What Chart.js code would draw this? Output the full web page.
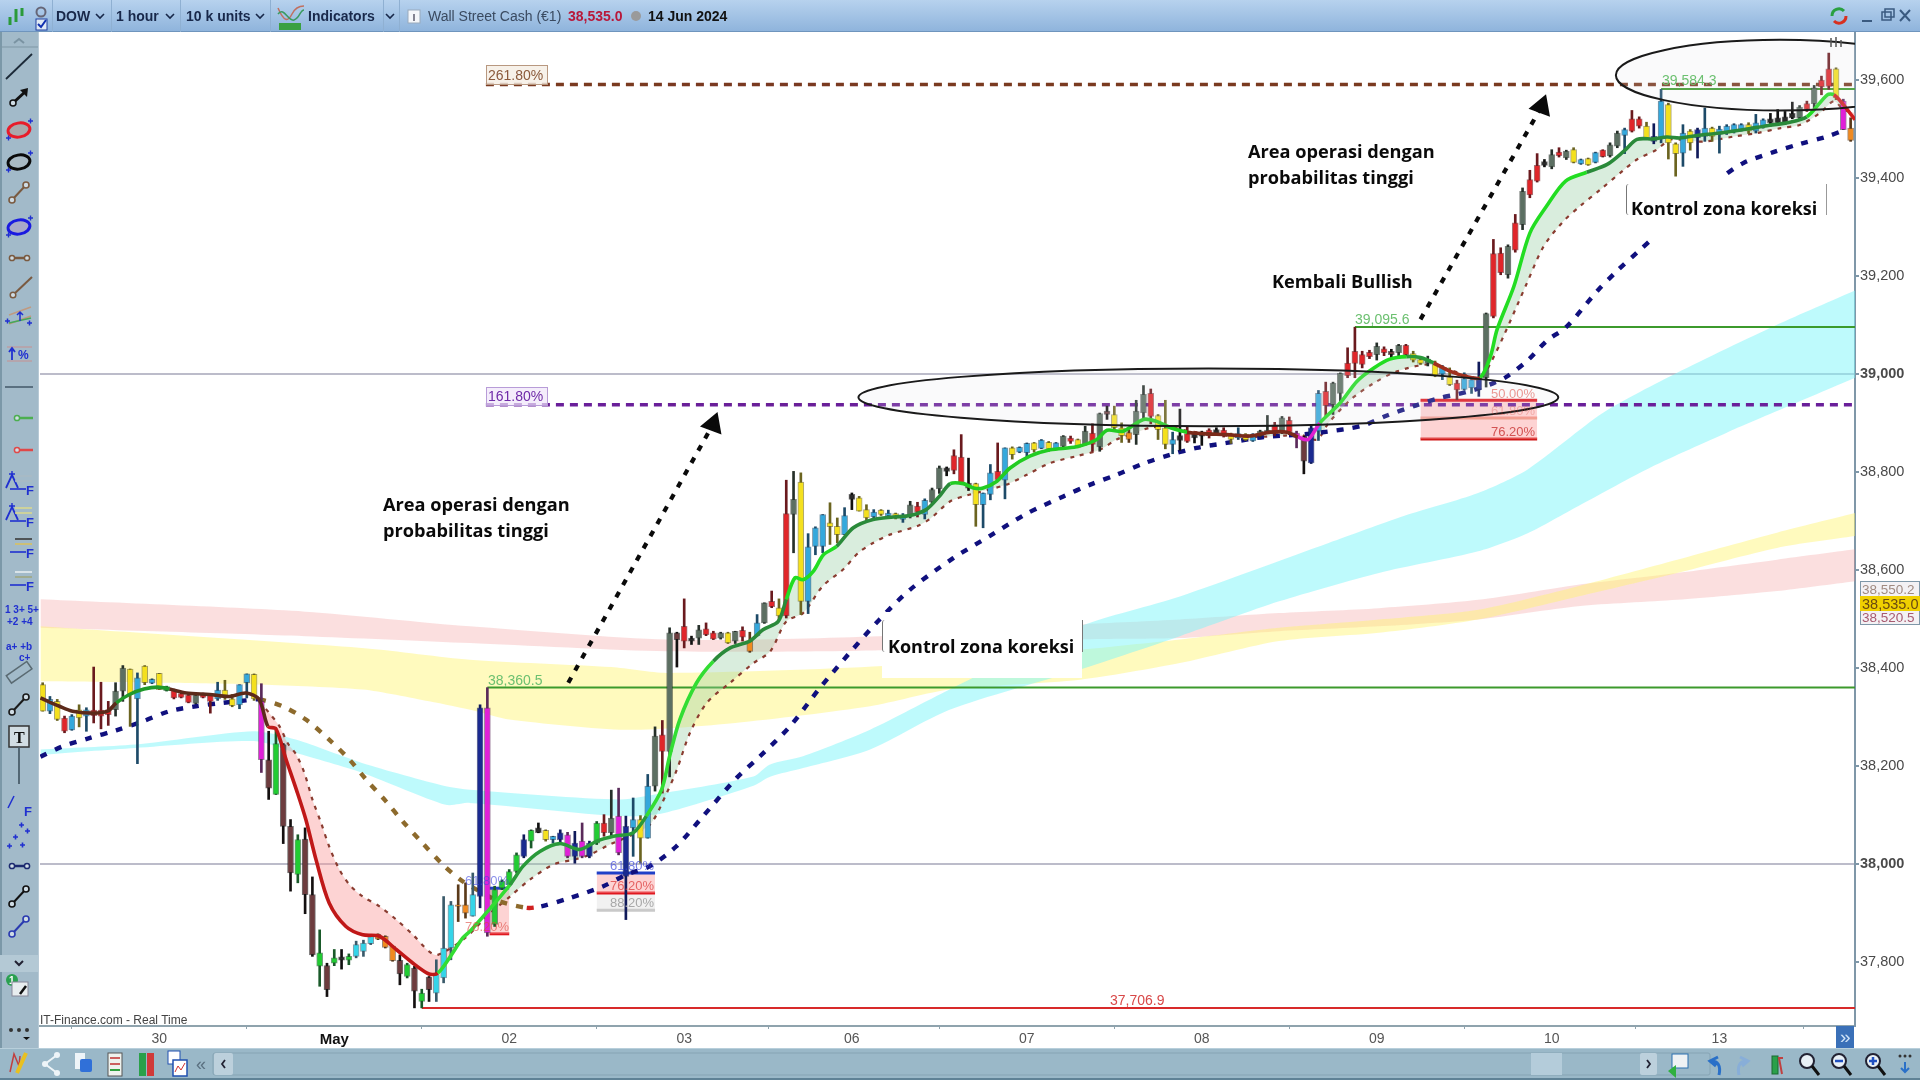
<!DOCTYPE html>
<html>
<head>
<meta charset="utf-8">
<title>Wall Street Cash</title>
<script src="https://cdn.jsdelivr.net/npm/chart.js@4/dist/chart.umd.min.js"></script>
<style>
html, body { margin: 0; padding: 0; width: 1920px; height: 1080px; overflow: hidden; background: #fff; font-family: "Liberation Sans", sans-serif; }
#chart { position: absolute; left: 0; top: 0; }
#overlay, #chrome { position: absolute; left: 0; top: 0; width: 1920px; height: 1080px; pointer-events: none; }
.txt { position: absolute; white-space: nowrap; transform: translateY(-50%); line-height: 1; }
.note { font-family: "Open Sans", sans-serif; font-weight: 700; font-size: 18.2px; color: #0a0a0a; }
.fib { font-size: 13px; }
.patch { position: absolute; background: #fff; }
.bracket { position: absolute; width: 4px; border-left: 1px solid #777; border-radius: 3px 0 0 3px; }
.bar { position: absolute; }
.sep { position: absolute; top: 0; width: 1px; height: 32px; background: #8fb0d2; }
</style>
</head>
<body>
<canvas id="chart" width="1920" height="1080"></canvas>
<div id="overlay"></div>
<div id="chrome"></div>
<script>
// candle kinds: y yellow, b blue, r red, g green, s slate, d brown, k black, c cyan, o orange, m magenta, n navy
const candleKinds = 'ybyrbybrrr' + 'ssybybygrr' + 'rsrrbyybby' + 'mdgddgddgd' + 'gkgcccoood' + 'gdgdcccooc' +
    'nmggggngky' + 'bnmnmngrsm' + 'nbybsrsdrk' + 'srrsysrobs' + 'ryrsybbbyy' + 'bkyybybybs' +
    'rbsskrrdyb' + 'brbybbybyb' + 'srysrsdyyo' + 'ssryybkrkk' + 'rkrybybssr' +
    'srmdnbrssr' + 'rrrsrdsryy' + 'sybyrbbnsr' + 'rsrsrrksrs' + 'ybybrssbrr' + 'ynbyybynby' + 'bbbbybbkkk' + 'ksrsrrymo';

const highs = [
    38370,38342,38336,38302,38305,38325,38319,38402,38371,38332,
    38370,38405,38398,38390,38405,38378,38389,38363,38357,38349,
    38346,38346,38349,38346,38371,38375,38346,38366,38388,38388,
    38368,38271,38274,38246,38091,38060,38074,37974,37866,37798,
    37826,37826,37817,37843,37845,37856,37858,37854,37834,37815,
    37798,37792,37745,37771,37805,37934,37924,37958,37962,37982,
    38325,38360,37955,37968,37989,38023,38060,38070,38084,38070,
    38057,38070,38065,38067,38084,38047,38087,38101,38151,38155,
    38098,38135,38099,38183,38280,38293,38482,38473,38541,38465,
    38487,38492,38475,38473,38473,38475,38484,38473,38509,38533,
    38557,38541,38783,38801,38798,38674,38688,38713,38737,38706,
    38727,38757,38750,38733,38723,38723,38722,38716,38715,38740,
    38738,38745,38767,38812,38810,38845,38876,38828,38777,38757,
    38815,38859,38849,38851,38851,38859,38860,38866,38862,38860,
    38874,38873,38867,38893,38898,38920,38934,38934,38900,38886,
    38946,38976,38969,38917,38946,38881,38928,38893,38879,38883,
    38888,38890,38890,38879,38890,38878,38878,38885,38915,38901,
    38913,38912,38883,38873,38896,38966,38983,38983,39002,39053,
    39095,39046,39048,39063,39055,39050,39060,39060,39046,39033,
    39036,39026,39017,39012,38987,39002,38994,39024,39124,39274,
    39257,39263,39325,39379,39415,39449,39437,39457,39461,39456,
    39461,39438,39440,39452,39457,39471,39495,39501,39537,39524,
    39513,39510,39580,39552,39471,39508,39498,39501,39542,39503,
    39505,39508,39510,39510,39512,39529,39520,39531,39539,39535,
    39554,39547,39556,39588,39607,39654,39624,39560,39522
];
const lows = [
    38312,38307,38293,38268,38273,38280,38271,38288,38276,38283,
    38302,38332,38281,38205,38366,38368,38356,38353,38337,38339,
    38329,38327,38339,38308,38334,38336,38321,38317,38339,38334,
    38187,38132,38142,38042,37945,37962,37899,37812,37751,37730,
    37793,37786,37795,37809,37812,37836,37846,37829,37802,37754,
    37768,37707,37707,37720,37720,37758,37805,37883,37890,37894,
    37911,37853,37873,37948,37955,37982,38013,38033,38064,38047,
    38043,38040,38013,38002,38013,38013,38040,38057,38057,38019,
    37887,38016,38002,38053,38149,38145,38178,38402,38441,38448,
    38448,38466,38458,38459,38450,38450,38455,38432,38465,38491,
    38523,38499,38502,38635,38509,38511,38631,38635,38652,38655,
    38672,38723,38720,38699,38703,38711,38706,38704,38697,38706,
    38708,38704,38737,38756,38792,38796,38776,38762,38689,38686,
    38743,38783,38745,38826,38839,38828,38840,38847,38842,38845,
    38851,38858,38849,38854,38842,38842,38907,38886,38860,38860,
    38856,38907,38898,38866,38847,38837,38844,38860,38859,38854,
    38869,38876,38871,38858,38866,38864,38862,38871,38878,38874,
    38878,38876,38849,38796,38817,38864,38913,38917,38941,38992,
    38992,39012,39031,39028,39037,39033,39033,39036,39024,39019,
    39016,38994,38988,38976,38947,38967,38960,38954,38973,39114,
    39202,39195,39248,39294,39359,39391,39422,39418,39442,39437,
    39430,39427,39425,39430,39442,39442,39461,39449,39493,39501,
    39478,39469,39471,39438,39403,39423,39456,39440,39474,39474,
    39450,39488,39491,39495,39490,39491,39501,39505,39506,39508,
    39520,39518,39535,39542,39569,39580,39559,39498,39474
];
const bodyTops = [
    38366,38336,38332,38298,38302,38315,38315,38314,38314,38315,
    38353,38400,38398,38380,38404,38377,38389,38362,38356,38348,
    38345,38345,38348,38346,38355,38355,38337,38366,38388,38387,
    38332,38213,38246,38244,38077,38050,38051,37938,37819,37793,
    37809,37811,37812,37836,37839,37856,37857,37853,37833,37804,
    37795,37788,37737,37770,37775,37829,37917,37917,37917,37938,
    38319,38319,37948,37965,37985,38019,38050,38069,38074,38069,
    38057,38064,38060,38043,38047,38043,38084,38084,38094,38098,
    38077,38091,38091,38159,38261,38264,38472,38472,38485,38461,
    38478,38480,38472,38472,38472,38475,38477,38455,38492,38533,
    38536,38523,38715,38744,38779,38647,38686,38713,38696,38689,
    38711,38754,38747,38723,38718,38722,38716,38715,38708,38733,
    38730,38742,38764,38808,38808,38833,38830,38777,38776,38757,
    38798,38801,38849,38849,38850,38858,38859,38865,38860,38859,
    38873,38869,38866,38883,38879,38919,38924,38917,38890,38880,
    38924,38958,38960,38915,38890,38866,38874,38878,38878,38881,
    38885,38886,38885,38876,38878,38877,38877,38883,38885,38896,
    38910,38905,38879,38871,38890,38960,38964,38981,39001,39022,
    39046,39039,39044,39056,39051,39046,39058,39058,39041,39029,
    39030,39019,39012,38994,38981,38990,38988,38992,39123,39245,
    39246,39260,39308,39372,39396,39425,39433,39447,39452,39454,
    39457,39437,39439,39451,39456,39467,39491,39498,39520,39520,
    39505,39484,39556,39549,39469,39491,39495,39498,39501,39501,
    39499,39505,39508,39508,39508,39512,39518,39520,39522,39524,
    39531,39544,39551,39583,39599,39622,39622,39556,39501
];
const bodyBottoms = [
    38312,38312,38295,38271,38274,38298,38302,38303,38302,38305,
    38315,38353,38346,38337,38370,38369,38356,38354,38339,38340,
    38330,38328,38340,38332,38337,38341,38323,38325,38370,38337,
    38213,38155,38142,38077,37982,37979,37938,37815,37792,37744,
    37798,37804,37804,37812,37822,37838,37847,37830,37803,37776,
    37771,37741,37720,37744,37737,37768,37829,37914,37900,37894,
    37934,37860,37877,37951,37958,37985,38016,38047,38064,38050,
    38050,38050,38016,38016,38016,38016,38043,38064,38064,38023,
    37975,38074,38053,38053,38159,38230,38230,38458,38455,38455,
    38461,38468,38459,38461,38451,38455,38463,38434,38466,38492,
    38525,38506,38506,38713,38536,38536,38648,38648,38688,38672,
    38672,38744,38720,38706,38708,38713,38710,38706,38703,38710,
    38718,38713,38738,38765,38801,38803,38776,38767,38733,38733,
    38754,38784,38783,38835,38840,38839,38845,38848,38847,38846,
    38852,38862,38850,38856,38856,38851,38917,38890,38874,38866,
    38876,38920,38913,38886,38856,38856,38864,38862,38869,38873,
    38874,38878,38876,38866,38869,38865,38863,38874,38879,38878,
    38881,38881,38869,38822,38818,38883,38935,38937,38960,38996,
    39021,39019,39035,39039,39043,39039,39043,39039,39028,39021,
    39021,38996,38999,38978,38967,38968,38971,38968,38992,39117,
    39206,39202,39252,39304,39365,39393,39425,39422,39445,39440,
    39431,39428,39426,39431,39443,39445,39464,39486,39495,39505,
    39479,39474,39481,39471,39449,39450,39471,39481,39484,39484,
    39488,39491,39495,39498,39495,39495,39505,39512,39512,39512,
    39522,39522,39539,39551,39585,39586,39563,39498,39476
];

// axis ticks: candle index of each day start, and price levels
const dayTicks = [16, 40, 64, 88, 111, 135, 159, 183, 207, 230];
const dayLabels = ['30', 'May', '02', '03', '06', '07', '08', '09', '10', '13'];
const priceTicks = [37800, 38000, 38200, 38400, 38600, 38800, 39000, 39200, 39400, 39600];

// indicator lines as [candle index, price]
const fastLine = [[-0.3,38339],[2.3,38322],[4.1,38312],[6.9,38308],[8.9,38312],[10.1,38329],[11.9,38346],[13.9,38357],[15.8,38361],[17.4,38357],[19.7,38349],[22.9,38346],[25.6,38342],[27.9,38349],[29.7,38336],[30.9,38281],[32,38276],[33.4,38213],[34.8,38152],[36.1,38091],[37.5,38009],[39.3,37921],[41.6,37873],[43.9,37856],[46.2,37853],[48.5,37826],[50.8,37798],[53,37776],[54.2,37778],[55.8,37809],[57.6,37849],[58.8,37866],[64.1,37958],[65.9,37996],[68.2,38026],[70.9,38042],[73.7,38030],[76,38047],[78.3,38057],[81,38064],[82.8,38098],[84.9,38152],[86,38220],[87.4,38295],[89.7,38370],[92,38414],[94.3,38441],[97,38455],[98.8,38478],[100.9,38495],[102,38540],[103.2,38584],[104.3,38580],[105.7,38597],[107.1,38631],[108.9,38648],[111.2,38686],[113.9,38703],[116.7,38708],[119,38711],[121.2,38723],[123,38750],[124.5,38776],[126.3,38776],[127.7,38767],[129,38767],[130.9,38781],[132.7,38808],[135.4,38832],[138.2,38845],[141.8,38851],[144.6,38866],[146,38885],[148.2,38883],[151,38907],[152.8,38903],[154.7,38890],[157,38881],[159.2,38878],[162.4,38876],[165.6,38873],[168.4,38881],[170.7,38881],[172.2,38871],[173.6,38866],[175.2,38900],[178,38941],[180.3,38985],[182.6,39012],[184.8,39030],[187.1,39035],[189,39033],[190.8,39022],[193.1,39005],[195.4,38994],[197.2,38992],[198.6,39036],[199.5,39090],[201.8,39178],[204,39287],[206.3,39342],[208.9,39393],[211.8,39411],[214.6,39427],[216.9,39454],[218.7,39478],[221,39479],[222.8,39483],[224.6,39481],[226.9,39486],[230.1,39491],[233.8,39499],[236.5,39506],[239.3,39512],[242,39524],[244.8,39569],[245.7,39569],[247,39549],[248.6,39518]];
const ribbonLine = [[29.7,38332],[31.1,38308],[32.5,38281],[33.6,38247],[34.8,38223],[35.9,38186],[37,38132],[38.2,38084],[39.3,38036],[40.7,37989],[42.1,37958],[43.9,37934],[46.2,37914],[48.5,37887],[50.8,37856],[53,37822],[54.2,37815],[58,37850],[61,37895],[64.1,37934],[66.8,37968],[70,37999],[72.8,38009],[75,38019],[77.8,38040],[81.5,38064],[83.5,38084],[85.6,38145],[87,38193],[88.8,38268],[91.1,38329],[94.3,38370],[97.5,38410],[99.8,38434],[102,38495],[104.3,38512],[107,38567],[109.8,38601],[111.9,38635],[113.9,38655],[116.2,38672],[119.9,38689],[121.7,38704],[124.5,38740],[126.8,38752],[132.2,38774],[135,38794],[138.2,38818],[141.8,38832],[145,38845],[147.3,38866],[149.6,38878],[151.9,38890],[154.4,38893],[156.5,38885],[161,38876],[165.6,38871],[170.2,38874],[172.5,38876],[174.8,38866],[176.4,38900],[179.4,38947],[182.6,38981],[185.8,39005],[189.9,39019],[192.2,39012],[197.2,38992],[198.6,39022],[200.4,39077],[203.6,39185],[205.9,39260],[208.6,39311],[210.9,39342],[213.7,39376],[216.9,39416],[218.7,39437],[221.4,39457],[223.3,39478],[226,39474],[228.3,39474],[232,39484],[235.2,39491],[238.4,39501],[241.1,39508],[243.8,39532],[245.7,39556],[247,39539],[248.6,39532]];
const slowLine = [[-0.3,38219],[2.7,38240],[6.4,38257],[10.1,38273],[13.7,38291],[17.4,38312],[21,38322],[24.7,38329],[27.9,38334],[29.7,38336],[32.9,38322],[36.1,38295],[39.3,38254],[42.1,38213],[44.4,38172],[47.1,38128],[49.4,38087],[52.1,38043],[54.9,37999],[57.6,37965],[59.9,37945],[62.7,37924],[66.4,37911],[68.4,37914],[72.3,37931],[76.9,37955],[80.1,37979],[83.3,37996],[86.9,38036],[90.6,38098],[95.2,38176],[98.4,38220],[102.5,38281],[106.6,38359],[110.7,38431],[114.8,38499],[119,38560],[124.9,38624],[130,38670],[135,38715],[140,38750],[143.7,38774],[147.3,38794],[151,38817],[154.7,38835],[158.3,38849],[162.4,38859],[167.5,38871],[172.5,38876],[175.2,38880],[181,38894],[184.4,38915],[188.3,38935],[191.7,38951],[194,38958],[195.8,38965],[197.2,38971],[199,38981],[200.8,38994],[203.6,39026],[206.3,39067],[209.1,39097],[213.2,39168],[215.9,39209],[218.9,39250],[220.7,39274],[230.6,39403],[233.3,39430],[237.4,39452],[241.1,39469],[244.8,39484],[246.8,39495]];

// moving average bands
const pinkTop = [[-0.3,38540],[36,38515],[58.6,38485],[85.6,38458],[114.8,38465],[142.3,38489],[156,38499],[169.6,38512],[183.3,38522],[196.9,38539],[210.6,38570],[224.2,38594],[237.9,38621],[248.6,38642]];
const pinkBottom = [[-0.3,38482],[36,38465],[58.6,38451],[85.6,38434],[114.8,38436],[142.3,38458],[156,38461],[169.6,38475],[183.3,38485],[196.9,38499],[210.6,38526],[224.2,38539],[237.9,38557],[248.6,38577]];
const yellowTop = [[-0.3,38485],[44.5,38440],[58.6,38417],[78,38402],[85.6,38390],[115.3,38404],[142.3,38437],[156,38458],[169.6,38482],[183.3,38499],[196.9,38519],[210.6,38567],[224.2,38621],[237.9,38676],[248.6,38716]];
const yellowBottom = [[-0.3,38373],[16.5,38370],[30,38366],[43.9,38356],[53,38332],[59.5,38312],[64,38295],[80,38274],[95,38288],[113.5,38322],[124.4,38356],[142.3,38376],[156,38410],[169.6,38455],[183.3,38472],[196.9,38499],[210.6,38546],[224.2,38594],[237.9,38645],[248.6,38669]];
const cyanTop = [[-0.3,38234],[12.7,38244],[29,38271],[34.7,38254],[43.9,38206],[55.3,38159],[58.6,38152],[79.2,38132],[85.1,38145],[97.5,38179],[99.7,38203],[104.3,38220],[113.5,38274],[124.4,38356],[142.3,38485],[156,38546],[176.4,38655],[186.7,38710],[196.9,38757],[203.7,38805],[214,38920],[224.2,39002],[237.9,39100],[248.6,39170]];
const cyanBottom = [[-0.3,38223],[12.7,38237],[29,38251],[34.7,38227],[43.9,38186],[55.3,38121],[58.6,38125],[79.2,38098],[85.1,38104],[97.5,38160],[99.7,38178],[104.3,38196],[113.5,38234],[124.4,38315],[142.3,38397],[156,38465],[169.6,38536],[183.3,38594],[196.9,38638],[203.7,38675],[210.6,38730],[220.8,38811],[231,38880],[237.9,38924],[248.6,38992]];

// horizontal levels: start candle and price
const levelStarts = [60.8, 60.8, 61, 180, 222, 52];
const levelPrices = [39590, 38937, 38360.5, 39095.6, 39581, 37706.9];

// correction zones: first and last candle, then the fib prices, top to bottom
const zoneFrom = [61.3, 76, 189];
const zoneTo = [64, 84, 205];
const zonePrices = [[37951, 37858], [37982, 37941, 37906], [38946, 38910, 38867]];

// arrows [candle, price] start and tip
const arrowOne = [[72.1, 38370], [91.95, 38897]];
const arrowTwo = [[189, 39111], [205.6, 39545]];

// circled areas: centre candle, centre price, half width in candles, half height in points
const ovalCentreX = [159.9, 238.3];
const ovalCentreY = [38952, 39609];
const ovalRadiusX = [48, 22.5];
const ovalRadiusY = [59, 72];

const X_MIN = -0.365, X_MAX = 248.6, Y_MIN = 37670, Y_MAX = 39697;

const bodyColors = { y: '#f4e01e', b: '#35a8dc', r: '#e0262a', g: '#22cc33', s: '#5c6f62', d: '#6d3c3e', k: '#2a2a2a', c: '#35d4e8', o: '#f08a20', m: '#e020d8', n: '#1a2a90' };
const wickColors = { y: '#6b6420', b: '#1d4a68', r: '#6a1a1e', g: '#1a5a2a', s: '#26302a', d: '#141010', k: '#101010', c: '#3a5a6a', o: '#5a3a1a', m: '#5a2a5a', n: '#101a5a' };

// colour of the fast line: until which candle each colour holds
const fastColorEnds = [10, 17, 30, 54, 64, 82, 92, 102, 108, 124, 155, 172, 174, 186, 190, 197, 210, 240, 245, 250];
const fastColors = ['#5c2a1a', '#1f9a2a', '#5c2a1a', '#c01818', '#33dd33', '#2a9a3a', '#33dd33', '#2a8a3a', '#22dd22', '#2a8a3a', '#22cc22', '#7a2a1a', '#e020d0', '#22dd22', '#2a9a3a', '#a0301e', '#22dd22', '#2a8a3a', '#22dd22', '#d02020'];

function pts(list) {
    return list.map(p => ({ x: p[0], y: p[1] }));
}

function fastColorAt(x) {
    const i = fastColorEnds.findIndex(e => x < e);
    return fastColors[i < 0 ? fastColors.length - 1 : i];
}

function slowColorAt(x) {
    if (x < 29.7) return '#10107e';
    if (x < 64) return '#8d6a2c';
    if (x < 68.4) return '#d02020';
    return '#10107e';
}

function lineSet(data, extra) {
    return Object.assign({ type: 'line', data: pts(data), pointRadius: 0, borderWidth: 0, fill: false, borderColor: 'transparent' }, extra);
}

function buildDatasets() {
    const sets = [];

    function band(top, bottom, color, order) {
        sets.push(lineSet(top, { fill: '+1', backgroundColor: color, order: order, tension: 0.25 }));
        sets.push(lineSet(bottom, { order: order, tension: 0.25 }));
    }
    band(pinkTop, pinkBottom, 'rgba(240,130,130,0.26)', 100);
    band(yellowTop, yellowBottom, 'rgba(255,245,110,0.45)', 99);
    band(cyanTop, cyanBottom, 'rgba(125,245,250,0.5)', 98);

    // fib zones
    const zoneFills = ['rgba(250,150,150,0.42)', 'rgba(210,210,210,0.32)'];
    const zoneLines = [['#2040c8', '#e01820'], ['#2040c8', '#e01820', '#c8c8c8'], ['#e01820', '#f0a090', '#d01818']];
    zonePrices.forEach((prices, z) => {
        const range = (v) => [[zoneFrom[z], v], [zoneTo[z], v]];
        prices.forEach((v, k) => {
            const next = prices[k + 1];
            const isLastGrey = z === 1 && k === 1;
            sets.push(lineSet(range(v), {
                borderColor: zoneLines[z][k],
                borderWidth: 3,
                order: 90,
                fill: next === undefined ? false : { value: next },
                backgroundColor: isLastGrey ? zoneFills[1] : zoneFills[0]
            }));
        });
    });

    // levels
    const levelColors = ['#7a3a20', '#6a1f9a', '#3c9a2c', '#3c9a2c', '#3c9a2c', '#d82a2a'];
    levelPrices.forEach((v, k) => {
        const dashed = k < 2;
        sets.push(lineSet([[levelStarts[k], v], [X_MAX, v]], {
            borderColor: levelColors[k],
            borderWidth: dashed ? 3.5 : 2,
            borderDash: dashed ? [8, 6] : [],
            order: 80
        }));
    });

    // ribbon fill between the fast line and its thin companion
    sets.push(lineSet(fastLine, {
        order: 70,
        tension: 0.3,
        fill: { target: sets.length + 1, above: 'rgba(150,205,160,0.36)', below: 'rgba(250,150,150,0.42)' }
    }));
    sets.push(lineSet(ribbonLine, { borderColor: '#8a3c30', borderWidth: 2.2, borderDash: [4, 6], order: 69, tension: 0.3 }));

    // slow dashed trend line
    sets.push(lineSet(slowLine, {
        borderWidth: 4.4,
        borderDash: [7, 9],
        order: 60,
        tension: 0.3,
        borderColor: '#10107e',
        segment: { borderColor: c => slowColorAt(c.p0.parsed.x) }
    }));

    // candles
    const xs = highs.map((_, i) => i);
    sets.push({
        type: 'bar',
        data: xs.map(i => ({ x: i, y: [lows[i], highs[i]] })),
        backgroundColor: xs.map(i => wickColors[candleKinds[i]]),
        barThickness: 2,
        grouped: false,
        order: 50
    });
    sets.push({
        type: 'bar',
        data: xs.map(i => ({ x: i, y: [bodyBottoms[i], bodyTops[i]] })),
        backgroundColor: xs.map(i => bodyColors[candleKinds[i]]),
        borderColor: xs.map(i => wickColors[candleKinds[i]] + '99'),
        borderWidth: 1,
        borderSkipped: false,
        barThickness: 6,
        grouped: false,
        order: 49
    });

    // fast line on top of the candles
    sets.push(lineSet(fastLine, {
        borderWidth: 3.6,
        order: 40,
        tension: 0.3,
        borderColor: '#22dd22',
        segment: { borderColor: c => fastColorAt(c.p0.parsed.x) }
    }));

    // arrows
    [arrowOne, arrowTwo].forEach(a => {
        sets.push(lineSet(a, {
            borderColor: '#0a0a0a',
            borderWidth: 4.2,
            borderDash: [6, 8],
            order: 30,
            pointStyle: 'triangle',
            pointRadius: [0, 9],
            pointRotation: 20,
            pointBackgroundColor: '#0a0a0a',
            pointBorderColor: '#0a0a0a'
        }));
    });
    return sets;
}

const ovalsPlugin = {
    id: 'ovals',
    afterDatasetsDraw(chart) {
        const c = chart.ctx, xs = chart.scales.x, ys = chart.scales.y, a = chart.chartArea;
        c.save();
        c.beginPath();
        c.rect(a.left, a.top, a.right - a.left, a.bottom - a.top);
        c.clip();
        ovalCentreX.forEach((cx, k) => {
            const px = xs.getPixelForValue(cx);
            const py = ys.getPixelForValue(ovalCentreY[k]);
            const rx = xs.getPixelForValue(cx + ovalRadiusX[k]) - px;
            const ry = py - ys.getPixelForValue(ovalCentreY[k] + ovalRadiusY[k]);
            c.beginPath();
            c.ellipse(px, py, rx, ry, 0, 0, Math.PI * 2);
            c.fillStyle = 'rgba(225,225,232,0.16)';
            c.fill();
            c.lineWidth = 2;
            c.strokeStyle = '#1a1a1a';
            c.stroke();
        });
        c.restore();
    }
};

function renderChart() {
    new Chart(document.getElementById('chart'), {
        data: { datasets: buildDatasets() },
        plugins: [ovalsPlugin],
        options: {
            responsive: false,
            animation: false,
            devicePixelRatio: 1,
            events: [],
            layout: { padding: { left: 40, top: 32, bottom: 30, right: 0 } },
            plugins: { legend: { display: false }, tooltip: { enabled: false } },
            scales: {
                x: {
                    type: 'linear',
                    min: X_MIN,
                    max: X_MAX,
                    offset: false,
                    afterBuildTicks: s => { s.ticks = dayTicks.map(v => ({ value: v })); },
                    afterFit: s => { s.height = 24; },
                    border: { color: '#8fa3ad', width: 2 },
                    grid: { drawOnChartArea: false, tickLength: 3, tickColor: '#8fa3ad' },
                    ticks: {
                        autoSkip: false,
                        maxRotation: 0,
                        padding: 2,
                        callback: v => dayLabels[dayTicks.indexOf(v)],
                        color: c => c.tick && c.tick.value === 40 ? '#111' : '#555',
                        font: c => c.tick && c.tick.value === 40
                            ? { family: '"Liberation Sans"', size: 15, weight: 'bold' }
                            : { family: '"Liberation Sans"', size: 14 }
                    }
                },
                y: {
                    position: 'right',
                    min: Y_MIN,
                    max: Y_MAX,
                    afterBuildTicks: s => { s.ticks = priceTicks.map(v => ({ value: v })); },
                    afterFit: s => { s.width = 65; },
                    border: { color: '#7f97a8', width: 2 },
                    grid: {
                        color: c => (c.tick && (c.tick.value === 38000 || c.tick.value === 39000)) ? '#bcbcca' : 'transparent',
                        lineWidth: 2,
                        tickLength: 4,
                        tickColor: '#7f97a8'
                    },
                    ticks: {
                        padding: 1,
                        color: '#4a4a4a',
                        font: c => ({ family: '"Liberation Sans"', size: 14.5, weight: c.tick && (c.tick.value === 38000 || c.tick.value === 39000) ? 'bold' : 'normal' }),
                        callback: v => v.toLocaleString('en-US')
                    }
                }
            }
        }
    });
}

function addText(parent, text, x, y, css, cls) {
    const d = document.createElement('div');
    d.className = 'txt ' + (cls || '');
    d.textContent = text;
    d.style.left = x + 'px';
    d.style.top = y + 'px';
    if (css) d.style.cssText += css;
    parent.appendChild(d);
    return d;
}

function addBox(parent, x, y, w, h, css, cls) {
    const d = document.createElement('div');
    d.className = cls || 'bar';
    d.style.left = x + 'px';
    d.style.top = y + 'px';
    d.style.width = w + 'px';
    d.style.height = h + 'px';
    if (css) d.style.cssText += css;
    parent.appendChild(d);
    return d;
}

function renderOverlay() {
    const o = document.getElementById('overlay');
    addBox(o, 882, 612, 200, 66, '', 'patch');
    addBox(o, 1620, 177, 212, 63, '', 'patch');
    addBox(o, 882, 620, 4, 32, '', 'bracket');
    addBox(o, 1078, 620, 4, 32, 'border-left:0;border-right:1px solid #777;', 'bracket');
    addBox(o, 1626, 184, 4, 31, '', 'bracket');
    addBox(o, 1822, 184, 4, 31, 'border-left:0;border-right:1px solid #999;', 'bracket');

    addText(o, 'Area operasi dengan', 383, 504, '', 'note');
    addText(o, 'probabilitas tinggi', 383, 530, '', 'note');
    addText(o, 'Area operasi dengan', 1248, 151, '', 'note');
    addText(o, 'probabilitas tinggi', 1248, 177, '', 'note');
    addText(o, 'Kembali Bullish', 1272, 281, '', 'note');
    addText(o, 'Kontrol zona koreksi', 888, 646, 'font-size:18px;', 'note');
    addText(o, 'Kontrol zona koreksi', 1631, 208, 'font-size:18px;', 'note');

    addBox(o, 486, 65, 62, 20, 'border:1px solid #b89880;background:rgba(245,238,228,0.8);box-sizing:border-box;');
    addText(o, '261.80%', 488, 75, 'font-size:14px;color:#8b5a3c;');
    addBox(o, 486, 387, 62, 19, 'border:1px solid #b89cd8;background:rgba(240,230,250,0.7);box-sizing:border-box;');
    addText(o, '161.80%', 488, 396, 'font-size:14px;color:#6f2aa8;');
    addText(o, '38,360.5', 488, 680, 'font-size:14px;color:#6cc070;');
    addText(o, '39,095.6', 1355, 319, 'font-size:14px;color:#6cc070;');
    addText(o, '39,584.3', 1662, 80, 'font-size:14px;color:#6cc070;');
    addText(o, '37,706.9', 1110, 1000, 'font-size:14px;color:#d84848;');

    addText(o, '61.80%', 465, 880, 'color:rgba(60,70,220,0.6);', 'fib');
    addText(o, '76.20%', 465, 926, 'color:rgba(220,70,60,0.6);', 'fib');
    addText(o, '61.80%', 610, 865, 'color:rgba(60,70,220,0.7);', 'fib');
    addText(o, '76.20%', 610, 885, 'color:rgba(220,60,60,0.75);', 'fib');
    addText(o, '88.20%', 610, 902, 'color:#a8a8a8;', 'fib');
    addText(o, '50.00%', 1491, 393, 'color:rgba(220,70,60,0.55);', 'fib');
    addText(o, '61.80%', 1491, 410, 'color:rgba(220,70,60,0.3);', 'fib');
    addText(o, '76.20%', 1491, 431, 'color:rgba(200,50,50,0.8);', 'fib');
    addText(o, 'IT-Finance.com - Real Time', 40, 1020, 'font-size:12px;color:#444;');

    // price tags on the right axis
    addBox(o, 1860, 581, 60, 44, 'background:#f3f1f4;border:1px solid #7f97a8;box-sizing:border-box;');
    addText(o, '38,550.2', 1862, 590, 'font-size:13.5px;color:#a08a80;');
    addBox(o, 1860, 596, 60, 15, 'background:#f0d000;');
    addText(o, '38,535.0', 1862, 604, 'font-size:14.5px;color:#6a4a10;');
    addText(o, '38,520.5', 1862, 618, 'font-size:13.5px;color:#a85a70;');
}

function svgEl(x, y, w, h, body) {
    return `<svg xmlns="http://www.w3.org/2000/svg" style="position:absolute;left:${x}px;top:${y}px" width="${w}" height="${h}" viewBox="0 0 ${w} ${h}">${body}</svg>`;
}

function sideIcons() {
    const oval = (y, c, fill) => `<ellipse cx="19" cy="${y}" rx="11" ry="7" fill="${fill}" stroke="${c}" stroke-width="3" transform="rotate(-10 19 ${y})"/><path d="M28 ${y - 9}h5M30.5 ${y - 11.5}v5M6 ${y + 8}h5M8.5 ${y + 5.500}v5" stroke="#2030d0" stroke-width="1.4"/>`;
    const link = (y, c) => `<line x1="13" y1="${y + 6}" x2="25" y2="${y - 7}" stroke="${c}" stroke-width="2"/><circle cx="12" cy="${y + 7}" r="3" fill="#cfdce4" stroke="${c}" stroke-width="1.6"/><circle cx="26" cy="${y - 8}" r="3" fill="#cfdce4" stroke="${c}" stroke-width="1.6"/>`;
    const hseg = (y, c, x1, x2) => `<line x1="${x1}" y1="${y}" x2="${x2}" y2="${y}" stroke="${c}" stroke-width="2.5"/><circle cx="${x1}" cy="${y}" r="2.6" fill="#cfdce4" stroke="${c}" stroke-width="1.5"/>`;
    const fib = (y, top, mid) => `<line x1="15" y1="${y - 7}" x2="32" y2="${y - 7}" stroke="${top}" stroke-width="1.6"/><line x1="15" y1="${y - 2}" x2="32" y2="${y - 2}" stroke="${mid}" stroke-width="1.6"/><line x1="10" y1="${y + 6}" x2="26" y2="${y + 6}" stroke="#2030d0" stroke-width="1.6"/><text x="26" y="${y + 12}" font-family="Liberation Sans" font-weight="bold" font-size="13" fill="#2030d0">F</text>`;
    const peak = (y) => `<path d="M6 ${y + 5}L12 ${y - 8}L18 ${y + 5}" fill="none" stroke="#2030d0" stroke-width="1.8"/><path d="M9 ${y - 9}h6M12 ${y - 12}v6" stroke="#2030d0" stroke-width="1.4"/>`;
    const blue = '#2030d0';
    let s = '';
    s += `<path d="M14 43l5-4 5 4" fill="none" stroke="#7a93a2" stroke-width="2"/><line x1="0" y1="47" x2="38" y2="47" stroke="#7f97a5"/>`;
    s += `<line x1="6" y1="79" x2="32" y2="54" stroke="#1c2a38" stroke-width="1.8"/>`;
    s += `<line x1="13" y1="103" x2="26" y2="91" stroke="#111" stroke-width="3"/><path d="M20 90l8-2-1 9z" fill="#111"/><circle cx="13" cy="103" r="3" fill="#cfdce4" stroke="#111" stroke-width="1.5"/>`;
    s += oval(130, '#e81c2a', '#a9a9ac') + oval(162, '#0a0a0a', '#a9bac4') + oval(227, '#1a1ae0', '#a9a9c8');
    s += link(193, '#7a5a40') + hseg(258, '#7a5a40', 12, 27) + `<circle cx="27" cy="258" r="2.6" fill="#cfdce4" stroke="#7a5a40" stroke-width="1.5"/>`;
    s += `<line x1="13" y1="295" x2="32" y2="277" stroke="#7a5a40" stroke-width="2"/><circle cx="13" cy="295" r="2.8" fill="#cfdce4" stroke="#7a5a40" stroke-width="1.5"/>`;
    s += `<path d="M9 315L31 307M9 324L31 316" stroke="#c09a80" stroke-width="1.5"/><path d="M9 323L31 318" stroke="#45a85a" stroke-width="1.5"/><path d="M20 321v-9M17 315l3-3 3 3M5 321h5M7.500 318.500v5M27 323h5M29.500 320.500v5" stroke="${blue}" stroke-width="1.5" fill="none"/>`;
    s += `<line x1="7" y1="347" x2="32" y2="347" stroke="#c89090"/><line x1="7" y1="361" x2="32" y2="361" stroke="#c89090"/><path d="M12 360v-11M9 352l3-4 3 4" stroke="${blue}" stroke-width="1.8" fill="none"/><text x="18" y="359" font-family="Liberation Sans" font-weight="bold" font-size="12" fill="${blue}">%</text>`;
    s += `<line x1="5" y1="387" x2="33" y2="387" stroke="#5a7080" stroke-width="2"/>`;
    s += hseg(418, '#4caf50', 17, 33) + hseg(450, '#e04848', 17, 33);
    s += peak(483) + fib(483, '#a9bac4', '#a9bac4') + peak(515) + fib(515, '#d8d890', '#d8d890') + fib(546, '#3a3a3a', '#d8c060') + fib(579, '#e8eef0', '#a0a880');
    s += `<text x="5" y="613" font-family="Liberation Sans" font-size="10" font-weight="bold" fill="${blue}">1 3+ 5+</text><text x="7" y="625" font-family="Liberation Sans" font-size="10" font-weight="bold" fill="${blue}">+2 +4</text>`;
    s += `<text x="6" y="650" font-family="Liberation Sans" font-size="10" font-weight="bold" fill="${blue}">a+ +b</text><text x="19" y="661" font-family="Liberation Sans" font-size="10" font-weight="bold" fill="${blue}">c+</text>`;
    s += `<rect x="7" y="668" width="25" height="9" fill="none" stroke="#5a6a72" stroke-width="1.5" transform="rotate(-35 19 673)"/>`;
    s += link(705, '#1a1a1a');
    s += `<rect x="9" y="726" width="20" height="21" fill="#d2dde3" stroke="#333" stroke-width="1.5"/><text x="14" y="743" font-family="Liberation Serif" font-weight="bold" font-size="16" fill="#111">T</text>`;
    s += `<line x1="19" y1="747" x2="19" y2="784" stroke="#4a5e6a" stroke-width="1.8"/>`;
    s += `<path d="M8 808L14 796" stroke="${blue}" stroke-width="1.5"/><text x="24" y="816" font-family="Liberation Sans" font-weight="bold" font-size="13" fill="${blue}">F</text>`;
    s += `<path d="M7 846h5M9.500 843.500v5M13 837h5M15.500 834.500v5M20 845h5M22.500 842.500v5M25 831h5M27.500 828.500v5M19 825h5M21.500 822.500v5" stroke="${blue}" stroke-width="1.6"/>`;
    s += hseg(866, '#1c2a70', 12, 27) + `<circle cx="27" cy="866" r="2.6" fill="#cfdce4" stroke="#1c2a70" stroke-width="1.5"/>`;
    s += link(897, '#111') + link(927, '#2a3ab0');
    s += `<rect x="0" y="955" width="38" height="17" fill="#b4c9d5"/><path d="M15 961l4 4 4-4" fill="none" stroke="#223" stroke-width="2"/>`;
    s += `<circle cx="12" cy="980" r="6" fill="#2aa050"/><text x="9" y="984" font-family="Liberation Sans" font-weight="bold" font-size="10" fill="#fff">1</text><rect x="12" y="982" width="16" height="14" fill="#e8edef" stroke="#889"/><path d="M20 994l6-8" stroke="#111" stroke-width="2.5"/>`;
    s += `<circle cx="11" cy="1030" r="2" fill="#333"/><circle cx="19" cy="1030" r="2" fill="#333"/><circle cx="27" cy="1030" r="2" fill="#333"/><path d="M23 1037h7l-3.500 3z" fill="#111"/>`;
    return s;
}

function renderChrome() {
    const c = document.getElementById('chrome');
    // frames
    addBox(c, 0, 0, 1920, 32, 'background:linear-gradient(#b7d2ee,#8fb4dc);border-bottom:1px solid #6f95bd;box-sizing:border-box;');
    addBox(c, 0, 32, 39, 1016, 'background:#a2bac9;border-left:2px solid #7b98a8;border-right:1px solid #b8cad6;box-sizing:border-box;');
    addBox(c, 0, 1048, 1920, 32, 'background:#9ab8c8;border-bottom:2px solid #5f8296;border-top:1px solid #b8cfdb;box-sizing:border-box;');
    addBox(c, 1836, 1026, 18, 22, 'background:#3a70b8;');
    addText(c, '»', 1840, 1036, 'font-size:19px;color:#cfe2f7;');

    // top toolbar
    [52, 111, 180, 270, 383, 399].forEach(x => addBox(c, x, 0, 1, 32, '', 'sep'));
    const top = 'font-size:14px;color:#18284a;';
    addText(c, 'DOW', 56, 16, top + 'font-weight:bold;');
    addText(c, '1 hour', 116, 16, top + 'font-weight:bold;');
    addText(c, '10 k units', 186, 16, top + 'font-weight:bold;');
    addText(c, 'Indicators', 308, 16, top + 'font-weight:bold;');
    addText(c, 'Wall Street Cash (€1)', 428, 16, 'font-size:14px;color:#3a4a60;');
    addText(c, '38,535.0', 568, 16, 'font-size:14px;color:#b8183a;font-weight:bold;');
    addText(c, '14 Jun 2024', 648, 16, 'font-size:14px;color:#111;font-weight:bold;');

    let t = '';
    const chev = (x) => `<path d="M${x} 14l4 4 4-4" fill="none" stroke="#18284a" stroke-width="1.6"/>`;
    t += chev(96) + chev(166) + chev(256) + chev(386);
    t += `<path d="M10 25v-8M16 22v-13M22 16v-8" stroke="#2a9a3a" stroke-width="3"/>`;
    t += `<circle cx="41" cy="12" r="4.500" fill="none" stroke="#667" stroke-width="2"/><rect x="36" y="19" width="11" height="11" fill="#dfe9f4" stroke="#2040a0"/><path d="M38 24l3 3 5-7" fill="none" stroke="#1030b0" stroke-width="2"/>`;
    t += `<path d="M278 8c6 14 10 14 14 6s10-8 12-8" fill="none" stroke="#c07060" stroke-width="1.500"/><path d="M278 14c6-8 10 8 16 6s6-10 10-10" fill="none" stroke="#3a9a60" stroke-width="1.500"/><rect x="279" y="23" width="22" height="7" fill="#3aa040"/>`;
    t += `<rect x="408" y="10" width="12" height="13" fill="#f4f6fa" stroke="#9ab"/><path d="M414 14v7" stroke="#667" stroke-width="1.600"/>`;
    t += `<circle cx="636" cy="16" r="5" fill="#9a9a9a"/>`;
    t += `<path d="M1832 16a7 7 0 0 1 12-5" fill="none" stroke="#2aa040" stroke-width="3"/><path d="M1846 16a7 7 0 0 1-12 5" fill="none" stroke="#d83020" stroke-width="3"/>`;
    t += `<line x1="1862" y1="21" x2="1872" y2="21" stroke="#3a5a80" stroke-width="2"/><rect x="1882" y="12" width="9" height="8" fill="none" stroke="#3a5a80" stroke-width="1.500"/><rect x="1885" y="9" width="9" height="8" fill="none" stroke="#3a5a80" stroke-width="1.500"/><path d="M1900 10l10 11M1910 10l-10 11" stroke="#3a5a80" stroke-width="2"/>`;
    c.insertAdjacentHTML('beforeend', svgEl(0, 0, 1920, 32, t));

    c.insertAdjacentHTML('beforeend', svgEl(0, 0, 39, 1048, sideIcons()));
    c.insertAdjacentHTML('beforeend', svgEl(1829, 36, 16, 14, '<path d="M2 11V2M7 11V1M12 11V4" stroke="#555" stroke-width="1.500"/>'));

    // bottom toolbar
    let b = '';
    b += `<path d="M10 24L14 6L19 18L20 8" fill="none" stroke="#c04040" stroke-width="1.500"/><path d="M17 25L26 5" stroke="#e8c020" stroke-width="4"/>`;
    b += `<path d="M45 16l12-9M45 16l12 9" stroke="#eef4f8" stroke-width="2"/><circle cx="45" cy="16" r="3" fill="#eef4f8"/><circle cx="57" cy="7" r="3" fill="#eef4f8"/><circle cx="57" cy="25" r="3" fill="#eef4f8"/>`;
    b += `<rect x="75" y="5" width="10" height="16" fill="#eef4f8"/><rect x="80" y="11" width="12" height="13" rx="2" fill="#3070d8"/>`;
    b += `<rect x="108" y="5" width="14" height="23" fill="#eef2ee" stroke="#555"/><path d="M110 10h10M110 16h10" stroke="#c03030" stroke-width="1.500"/><path d="M110 22h10" stroke="#30a040" stroke-width="2"/>`;
    b += `<rect x="139" y="5" width="7" height="23" fill="#2aa04a"/><rect x="147" y="5" width="7" height="23" fill="#d03a3a"/>`;
    b += `<rect x="168" y="3" width="12" height="13" fill="#fff" stroke="#2050b0"/><rect x="173" y="12" width="14" height="16" fill="#fff" stroke="#2050b0" stroke-width="1.500"/><path d="M175 24l3-6 3 4 4-7" fill="none" stroke="#d03030"/>`;
    b += `<text x="196" y="22" font-family="Liberation Sans" font-size="18" fill="#5a7080">«</text>`;
    b += `<rect x="213" y="5" width="1497" height="22" rx="2" fill="none" stroke="#86a4b4"/><rect x="214" y="5" width="19" height="22" rx="2" fill="#bcd0dc"/><path d="M225 12l-3 4 3 4" fill="none" stroke="#223" stroke-width="1.800"/>`;
    b += `<rect x="1531" y="5" width="31" height="22" fill="#b4ccda"/><rect x="1640" y="5" width="17" height="22" rx="2" fill="#bcd0dc"/><path d="M1647 12l3 4-3 4" fill="none" stroke="#223" stroke-width="1.800"/>`;
    b += `<rect x="1672" y="6" width="16" height="14" fill="#eef2f4" stroke="#2a70b0"/><path d="M1686 24h-10v-7l-8 6 8 7v-6z" fill="#30b040"/>`;
    b += `<path d="M1718 9l-8 4 6 5M1710 13c8-1 11 5 9 14" fill="none" stroke="#2a70c8" stroke-width="3"/><path d="M1740 9l8 4-6 5M1748 13c-8-1-11 5-9 14" fill="none" stroke="#88aed8" stroke-width="3"/>`;
    b += `<rect x="1772" y="8" width="6" height="18" fill="#2aa04a" stroke="#1a6a30"/><path d="M1782 26l-3-16h4" stroke="#c04040" fill="none" stroke-width="2"/>`;
    [1807, 1839, 1873].forEach((x, k) => {
        b += `<circle cx="${x}" cy="13" r="7" fill="#e8f0f6" stroke="#223" stroke-width="2"/><line x1="${x + 5}" y1="18" x2="${x + 12}" y2="27" stroke="#111" stroke-width="3"/>`;
        if (k === 1) b += `<path d="M${x - 4} 13h8" stroke="#2050c0" stroke-width="2.500"/>`;
        if (k === 2) b += `<path d="M${x - 4} 13h8M${x} 9v8" stroke="#2050c0" stroke-width="2.500"/>`;
    });
    b += `<circle cx="1900" cy="8" r="1.500" fill="#333"/><circle cx="1905" cy="8" r="1.500" fill="#333"/><circle cx="1910" cy="8" r="1.500" fill="#333"/><path d="M1905 14v10M1901 20l4 4 4-4" fill="none" stroke="#2a70c8" stroke-width="2"/>`;
    c.insertAdjacentHTML('beforeend', svgEl(0, 1048, 1920, 32, b));
}

document.addEventListener('DOMContentLoaded', () => {
    renderChart();
    renderOverlay();
    renderChrome();
});
</script>
</body>
</html>
